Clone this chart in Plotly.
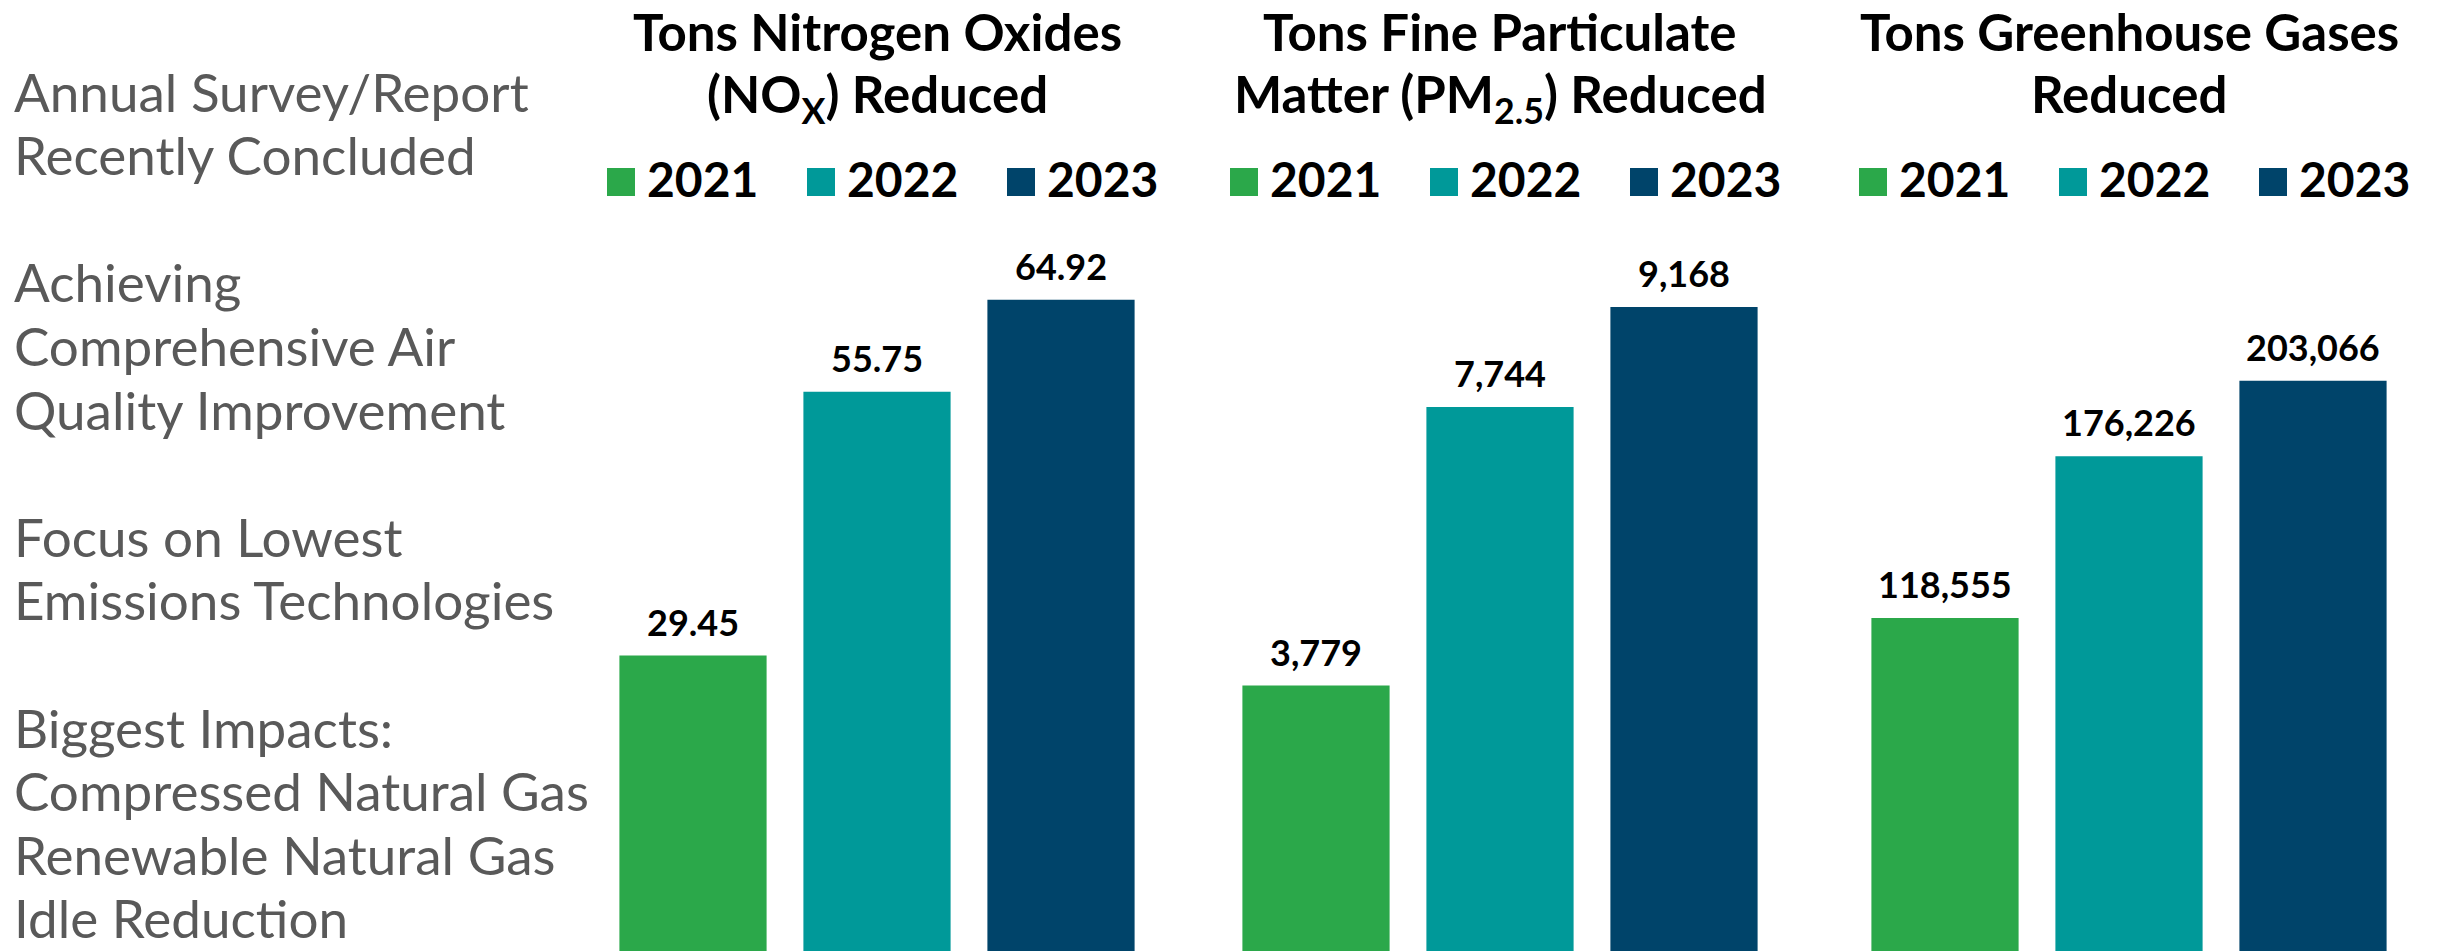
import plotly.graph_objects as go

# Figure size in pixels
W, H = 2438, 951

# ---- data ----
years = ["2021", "2022", "2023"]
nox_tons = [29.45, 55.75, 64.92]
pm25_tons = [3779, 7744, 9168]
ghg_tons = [118555, 176226, 203066]

panel_titles = [
    ["Tons Nitrogen Oxides", "(NO<sub>X</sub>) Reduced"],
    ["Tons Fine Particulate", "Matter (PM<sub>2.5</sub>) Reduced"],
    ["Tons Greenhouse Gases", "Reduced"],
]

side_text = [
    "Annual Survey/Report",
    "Recently Concluded",
    "",
    "Achieving",
    "Comprehensive Air",
    "Quality Improvement",
    "",
    "Focus on Lowest",
    "Emissions Technologies",
    "",
    "Biggest Impacts:",
    "Compressed Natural Gas",
    "Renewable Natural Gas",
    "Idle Reduction",
]

# ---- styling ----
year_colors = ["#2BA84A", "#009999", "#00446A"]
FONT = "Lato, sans-serif"

# panel geometry: x-domain in pixels and y-axis ceiling
panels = [
    dict(vals=nox_tons, dom=(601, 1153), ymax=94.8, fmt="{:.2f}", legend_x=607),
    dict(vals=pm25_tons, dom=(1224, 1776), ymax=13539, fmt="{:,.0f}", legend_x=1230),
    dict(vals=ghg_tons, dom=(1853, 2405), ymax=338675, fmt="{:,.0f}", legend_x=1859),
]


def top_at_baseline(baseline, size, pad=2):
    """Paper y for an annotation (yanchor='top') whose first baseline sits at `baseline` px."""
    return 1 - (baseline - 0.987 * size - pad) / H


fig = go.Figure()
annotations = []
shapes = []

for i, p in enumerate(panels):
    suffix = "" if i == 0 else str(i + 1)
    xa, ya = "x" + suffix, "y" + suffix
    fig.add_trace(go.Bar(
        x=years, y=p["vals"], xaxis=xa, yaxis=ya,
        marker=dict(color=year_colors, line=dict(width=0)),
        width=0.8, showlegend=False, hoverinfo="x+y",
    ))
    fig.layout["xaxis" + suffix] = dict(
        domain=[p["dom"][0] / W, p["dom"][1] / W], range=[-0.5, 2.5],
        type="category", visible=False, anchor=ya, fixedrange=True,
    )
    fig.layout["yaxis" + suffix] = dict(
        domain=[0, 1], range=[0, p["ymax"]], visible=False, anchor=xa, fixedrange=True,
    )

    # value labels above bars (x given as category index)
    for idx, v in enumerate(p["vals"]):
        annotations.append(dict(
            xref=xa, yref=ya, x=idx, y=v, text=p["fmt"].format(v),
            showarrow=False, xanchor="center", yanchor="bottom", yshift=10,
            font=dict(family=FONT, size=36, color="#000000", weight="bold"),
        ))

    # panel title (two lines)
    cx = (p["dom"][0] + p["dom"][1]) / 2 / W
    for line, base in zip(panel_titles[i], (51, 113)):
        annotations.append(dict(
            xref="paper", yref="paper", x=cx, y=top_at_baseline(base, 51, pad=0),
            xanchor="center", yanchor="top", text=line, showarrow=False,
            borderpad=0, borderwidth=0,
            font=dict(family=FONT, size=51, color="#000000", weight="bold"),
        ))

    # year key: coloured squares with labels
    for k, (yr, col) in enumerate(zip(years, year_colors)):
        x0 = p["legend_x"] + 200 * k
        shapes.append(dict(
            type="rect", xref="paper", yref="paper",
            x0=x0 / W, x1=(x0 + 28) / W, y0=1 - 196 / H, y1=1 - 168 / H,
            fillcolor=col, line=dict(width=0),
        ))
        annotations.append(dict(
            xref="paper", yref="paper", x=(x0 + 38) / W, y=top_at_baseline(197, 48),
            xanchor="left", yanchor="top", text=yr, showarrow=False,
            font=dict(family=FONT, size=48, color="#000000", weight="bold"),
        ))

# left-hand narrative text, one line every 63.6 px
for k, line in enumerate(side_text):
    if not line:
        continue
    base = 112 + 63.6 * k
    annotations.append(dict(
        xref="paper", yref="paper", x=14 / W, y=top_at_baseline(base, 53, pad=0),
        xanchor="left", yanchor="top", text=line, showarrow=False,
        borderpad=0, borderwidth=0,
        font=dict(family=FONT, size=53, color="#595959"),
    ))

fig.update_layout(
    width=W, height=H,
    margin=dict(l=0, r=0, t=0, b=0),
    paper_bgcolor="#FFFFFF", plot_bgcolor="#FFFFFF",
    annotations=annotations, shapes=shapes,
    showlegend=False,
)

fig.write_html("out.html", config=dict(displayModeBar=False))
